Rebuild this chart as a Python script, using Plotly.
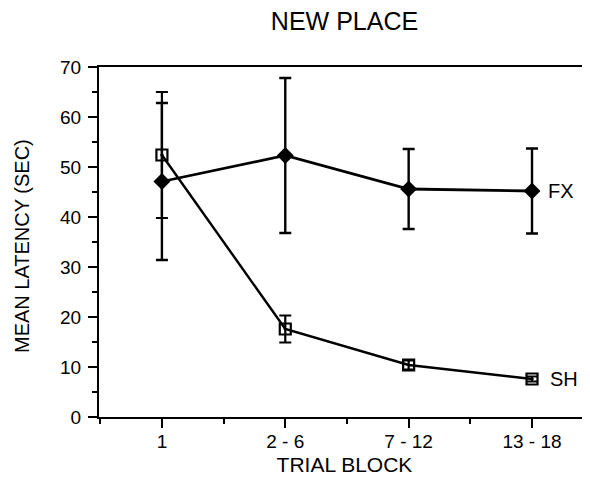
import plotly.graph_objects as go

blocks = ["1", "2 - 6", "7 - 12", "13 - 18"]
fx_mean = [47.1, 52.3, 45.6, 45.2]
fx_err = [15.7, 15.5, 8.0, 8.5]
sh_mean = [52.4, 17.6, 10.4, 7.6]
sh_err = [12.6, 2.7, 0.9, 0.5]

xpos = list(range(len(blocks)))
FONT = "Liberation Sans, Arial, Helvetica, sans-serif"

# page body has an 8px margin; size the figure so no scrollbars appear
W, H = 582, 471
ML, MT, MB = 91, 59, 62

fig = go.Figure()
fig.add_trace(go.Scatter(
    x=xpos, y=sh_mean, mode="lines+markers", name="SH",
    line=dict(color="black", width=2.4),
    marker=dict(symbol="square-open-dot", size=11, color="black", line=dict(width=2.2, color="black")),
    error_y=dict(type="data", array=sh_err, visible=True, color="black", thickness=2.2, width=6),
))
fig.add_trace(go.Scatter(
    x=xpos, y=fx_mean, mode="lines+markers", name="FX",
    line=dict(color="black", width=2.8),
    marker=dict(symbol="diamond", size=13, color="black"),
    error_y=dict(type="data", array=fx_err, visible=True, color="black", thickness=2.4, width=6),
))

fig.add_annotation(x=xpos[-1], y=fx_mean[-1], text="FX", showarrow=False,
                   xanchor="left", xshift=14, font=dict(family=FONT, size=20, color="black"))
fig.add_annotation(x=xpos[-1], y=sh_mean[-1], text="SH", showarrow=False,
                   xanchor="left", xshift=16, font=dict(family=FONT, size=20, color="black"))
# y-axis title
fig.add_annotation(xref="paper", yref="paper", x=0, y=0.5, xshift=-(ML - 14), yshift=-4,
                   text="MEAN LATENCY (SEC)", textangle=-90, showarrow=False,
                   xanchor="center", yanchor="middle",
                   font=dict(family=FONT, size=20, color="black"))

fig.update_layout(
    width=W, height=H,
    margin=dict(l=ML, r=0, t=MT, b=MB),
    paper_bgcolor="white", plot_bgcolor="white",
    showlegend=False,
    font=dict(family=FONT, color="black", size=19),
    title=dict(text="NEW PLACE", x=0.5, xref="paper", y=1 - 13 / H, yref="container",
               yanchor="middle", xanchor="center", font=dict(size=25, family=FONT, color="black")),
)
fig.update_xaxes(
    range=[-0.51, 3.47], tickmode="array", tickvals=xpos, ticktext=blocks,
    showline=True, linecolor="black", linewidth=2.2, mirror=True,
    ticks="outside", ticklen=9, tickwidth=2.2, tickcolor="black",
    minor=dict(tickmode="array", tickvals=[x + 0.5 for x in xpos[:-1]] + [-0.5],
               ticks="outside", ticklen=5, tickwidth=2, tickcolor="black"),
    showgrid=False, zeroline=False,
    tickfont=dict(size=19), ticklabelstandoff=-3,
    title=dict(text="TRIAL BLOCK", font=dict(size=21), standoff=6),
)
fig.update_yaxes(
    range=[0, 70], dtick=10, tick0=0,
    showline=True, linecolor="black", linewidth=2.2,
    ticks="outside", ticklen=9, tickwidth=2.2, tickcolor="black",
    minor=dict(dtick=5, ticks="outside", ticklen=5, tickwidth=2, tickcolor="black"),
    showgrid=False, zeroline=False,
    tickfont=dict(size=19), ticklabelstandoff=3,
)

fig.write_html("out.html")
